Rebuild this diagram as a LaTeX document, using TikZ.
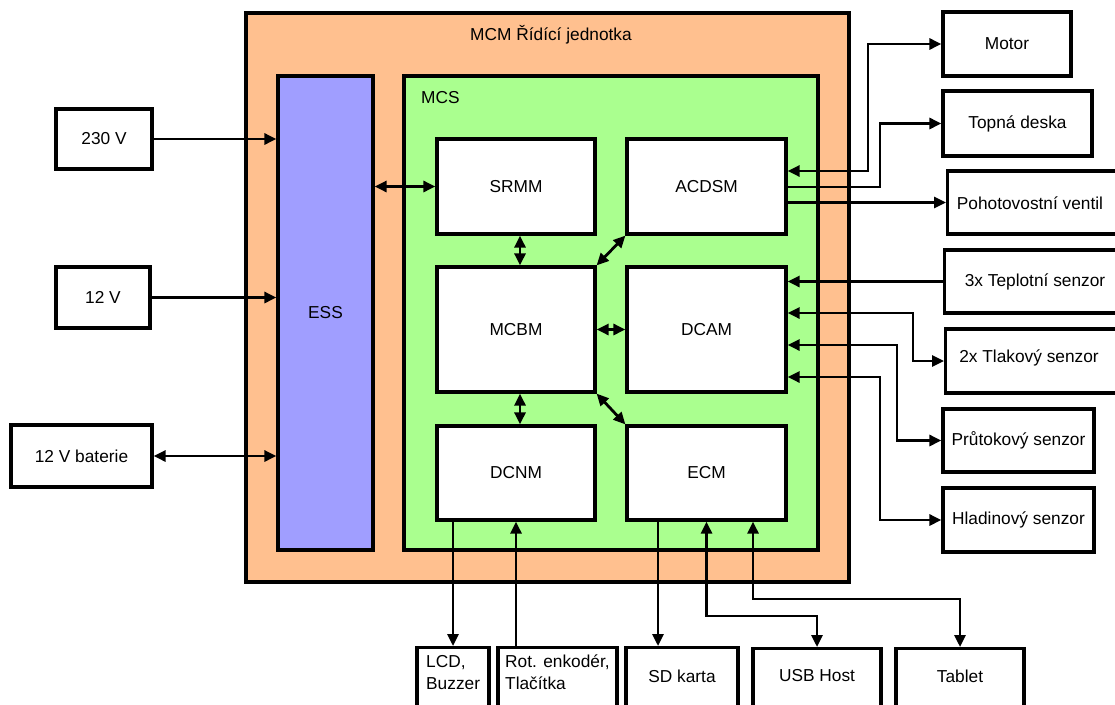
\documentclass[tikz,border=0pt]{standalone}
\usepackage{fontspec}
\setmainfont{Liberation Sans}
\usetikzlibrary{arrows.meta}
\definecolor{peach}{RGB}{255,192,143}
\definecolor{lav}{RGB}{160,158,255}
\definecolor{grn}{RGB}{170,255,143}
\tikzset{
  box/.style={draw=black, line width=3.2pt, fill=white, inner sep=0pt, font=\fontsize{17.3}{21}\selectfont},
  txt/.style={inner sep=0pt, font=\fontsize{17.3}{22}\selectfont},
  arr/.style={line width=2.8pt, -{Triangle[length=12pt,width=11pt]}},
  rarr/.style={line width=2.8pt, {Triangle[length=12pt,width=11pt]}-},
  darr/.style={line width=2.8pt, {Triangle[length=12pt,width=11pt]}-{Triangle[length=12pt,width=11pt]}}
}
\begin{document}
\begin{tikzpicture}[x=1pt,y=-1pt]
\clip (0,0) rectangle (1115,704);
\fill[white] (0,0) rectangle (1115,704);
% containers
\node[box, fill=peach, minimum width=603pt, minimum height=569pt] (mcm) at (547.5,297.5) {};
\node[txt] (mcmt) at (551,35) {MCM Řídící jednotka};
\node[box, fill=lav, minimum width=95pt, minimum height=474pt] (ess) at (325.5,313) {ESS};
\node[box, fill=grn, minimum width=414pt, minimum height=474pt] (mcs) at (611,313) {};
\node[txt, anchor=west] (mcst) at (421,98) {MCS};
% modules
\node[box, minimum width=158pt, minimum height=95pt] (srmm) at (516,186.5) {SRMM};
\node[box, minimum width=159pt, minimum height=95pt] (acdsm) at (706.5,186.5) {ACDSM};
\node[box, minimum width=158pt, minimum height=125pt] (mcbm) at (516,329.5) {MCBM};
\node[box, minimum width=159pt, minimum height=125pt] (dcam) at (706.5,329.5) {DCAM};
\node[box, minimum width=158pt, minimum height=94pt] (dcnm) at (516,473) {DCNM};
\node[box, minimum width=159pt, minimum height=94pt] (ecm) at (706.5,473) {ECM};
% left
\node[box, minimum width=96pt, minimum height=60pt] (v230) at (104,139) {230 V};
\node[box, minimum width=94pt, minimum height=61pt] (v12) at (103,297.5) {12 V};
\node[box, minimum width=141pt, minimum height=62pt] (bat) at (81.5,456) {12 V baterie};
% right
\node[box, minimum width=128pt, minimum height=64pt] (motor) at (1007,44) {Motor};
\node[box, minimum width=149pt, minimum height=65pt] (topna) at (1017.5,123.5) {Topná deska};
\node[box, anchor=west, minimum width=200pt, minimum height=63pt] (pohot) at (946,202.5) {};
\node[txt] (pohott) at (1030,203) {Pohotovostní ventil};
\node[box, anchor=west, minimum width=200pt, minimum height=63pt] (teplo) at (943,281.5) {};
\node[txt] (teplot) at (1035,282) {3x Teplotní senzor};
\node[box, anchor=west, minimum width=200pt, minimum height=64pt] (tlak) at (944,361) {};
\node[txt] (tlakt) at (1029,358) {2x Tlakový senzor};
\node[box, minimum width=151pt, minimum height=63pt] (prutok) at (1018.5,440.5) {Průtokový senzor};
\node[box, minimum width=151pt, minimum height=64pt] (hladin) at (1018.5,520) {Hladinový senzor};
% bottom
\node[box, anchor=north, minimum width=72pt, minimum height=90pt] (lcd) at (453,646) {};
\node[txt, anchor=north west, align=left] (lcdt) at (426,655) {LCD,\\Buzzer};
\node[box, anchor=north, minimum width=119pt, minimum height=90pt] (rot) at (557.5,646) {};
\node[txt, anchor=north west, align=left] (rott) at (505,655) {Rot. enkodér,\\Tlačítka};
\node[box, anchor=north, minimum width=112pt, minimum height=90pt] (sd) at (682,646) {};
\node[txt] (sdt) at (682,676) {SD karta};
\node[box, anchor=north, minimum width=128pt, minimum height=90pt] (usb) at (817,647) {};
\node[txt] (usbt) at (817,676) {USB Host};
\node[box, anchor=north, minimum width=128pt, minimum height=90pt] (tablet) at (960,647) {};
\node[txt] (tablett) at (960,676) {Tablet};
% left connectors
\draw[arr] (v230.east) -- (v230.east -| ess.west);
\draw[arr] (v12.east) -- (v12.east -| ess.west);
\draw[darr] (bat.east) -- (bat.east -| ess.west);
\draw[darr] (ess.east |- srmm.west) -- (srmm.west);
% internal
\draw[darr] ([xshift=4pt]srmm.south) -- ([xshift=4pt]mcbm.north);
\draw[darr] (acdsm.south west) -- (mcbm.north east);
\draw[darr] (mcbm.east) -- (dcam.west);
\draw[darr] ([xshift=4pt]mcbm.south) -- ([xshift=4pt]dcnm.north);
\draw[darr] (mcbm.south east) -- (ecm.north west);
% ACDSM outputs
\draw[darr] ([yshift=15.5pt]acdsm.east) -| (868,44) -- (motor.west);
\draw[arr] ([yshift=-0.5pt]acdsm.east) -| (880,123.5) -- (topna.west);
\draw[arr] (acdsm.east |- pohot.west) -- (pohot.west);
% DCAM inputs
\draw[arr] (teplo.west) -- (teplo.west -| dcam.east);
\draw[darr] ([yshift=16.5pt]dcam.east) -| (913,361) -- (tlak.west);
\draw[darr] ([yshift=-15.5pt]dcam.east) -| (897,440.5) -- (prutok.west);
\draw[darr] ([yshift=-47.5pt]dcam.east) -| (880,520) -- (hladin.west);
% bottom connectors
\draw[arr] (lcd.north |- dcnm.south) -- (lcd.north);
\draw[rarr] (dcnm.south) -- (dcnm.south |- rot.north);
\draw[arr] ([xshift=-48.5pt]ecm.south) -- ([xshift=-48.5pt]ecm.south |- sd.north);
\draw[darr] (ecm.south) -- (706.5,616) -| (usb.north);
\draw[darr] ([xshift=46.5pt]ecm.south) -- (753,599) -| (tablet.north);
\end{tikzpicture}
\end{document}
